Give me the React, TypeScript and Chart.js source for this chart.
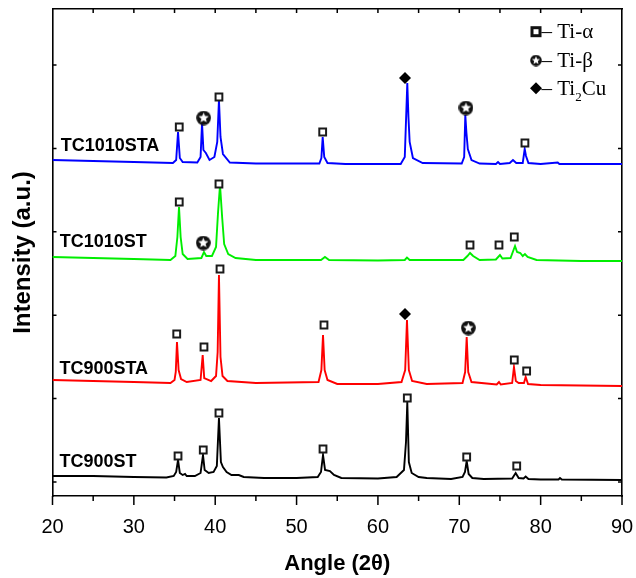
import React, { useEffect, useRef } from 'react';
import { Chart, registerables } from 'chart.js';

Chart.register(...registerables);

// ---------- data (angle 2θ, intensity in a.u., offset patterns) ----------
const TC900ST_X = [20, 25, 30, 34, 34.9, 35.2, 35.43, 35.65, 36.0, 36.29, 36.5, 37.5, 38.2, 38.5, 38.7, 39.2, 39.8, 40.2, 40.46, 40.7, 40.95, 41.4, 42, 42.9, 43.5, 46, 50, 52.6, 53.0, 53.25, 53.5, 54.1, 54.6, 55.5, 60, 62.3, 63.2, 63.45, 63.61, 63.8, 64.15, 65, 66, 69, 70.4, 70.7, 70.91, 71.15, 71.6, 73, 76.5, 76.93, 77.3, 77.9, 78.16, 78.5, 80, 82.2, 82.38, 82.6, 90];
const TC900ST_Y = [6, 6, 5, 4.5, 6, 10, 22, 9, 7, 8, 6, 6, 9, 27, 12, 9, 10, 16, 64, 20, 15, 10, 7, 7, 5, 4, 4, 5, 10, 27, 12, 11, 7, 4, 3.5, 5, 12, 40, 80, 20, 9, 5, 4, 3, 5, 10, 21, 8, 4, 3, 3.5, 9, 4, 3.5, 5.5, 3, 2.5, 2.5, 4, 2.5, 2];

const TC900STA_X = [20, 25, 30, 34.5, 35.0, 35.15, 35.3, 35.5, 35.8, 36.5, 38.2, 38.46, 38.65, 39.5, 40.1, 40.3, 40.46, 40.65, 40.9, 41.5, 45, 52.7, 53.05, 53.25, 53.45, 53.8, 55, 60, 62.9, 63.35, 63.57, 63.8, 64.2, 66, 70.4, 70.72, 70.91, 71.1, 71.5, 74.6, 74.88, 75.1, 76.5, 76.72, 76.95, 77.3, 77.95, 78.16, 78.45, 80, 85, 90];
const TC900STA_Y = [102, 101, 100, 99, 102, 110, 140, 112, 103, 100, 102, 127, 104, 101, 106, 130, 207, 125, 106, 101, 99, 100, 112, 147, 112, 102, 98, 98, 100, 112, 162, 112, 101, 98, 99, 110, 145, 110, 100, 97.5, 100, 97.5, 99, 115, 101, 99, 99, 105, 98, 97, 96.5, 96];

const TC1010ST_X = [20, 25, 30, 34.5, 35.1, 35.35, 35.55, 35.75, 36.0, 36.6, 38.3, 38.62, 38.9, 39.6, 40.1, 40.35, 40.59, 40.85, 41.1, 41.6, 42.5, 45, 53.0, 53.49, 54, 60, 63.3, 63.57, 63.9, 70.5, 71.0, 71.32, 71.7, 72.5, 74.5, 75.0, 75.3, 76.3, 76.85, 77.1, 77.5, 77.8, 78.07, 78.4, 79.5, 85, 90];
const TC1010ST_Y = [225, 224, 223, 222, 226, 245, 275, 245, 228, 223, 224, 230, 226, 226, 235, 270, 297, 265, 238, 228, 224, 222, 222, 225, 222, 221.5, 222, 224.5, 222, 222, 226, 229, 226, 222, 222.5, 227, 223.5, 224, 236, 230, 229, 226, 228, 225, 222, 221, 221];

const TC1010STA_X = [20, 25, 30, 34.8, 35.2, 35.43, 35.65, 36.0, 37.8, 38.2, 38.38, 38.55, 38.85, 39.3, 39.9, 40.25, 40.46, 40.65, 40.95, 41.8, 45, 52.8, 53.05, 53.21, 53.4, 53.8, 56, 62.8, 63.3, 63.61, 63.75, 63.9, 64.3, 65.5, 70.3, 70.6, 70.74, 70.88, 71.05, 71.5, 72.5, 74.5, 74.76, 75.0, 76.2, 76.6, 77.0, 77.8, 78.04, 78.2, 78.5, 80, 82.1, 82.3, 90];
const TC1010STA_Y = [322, 321, 320, 319, 322, 350, 324, 320, 319.5, 325, 359, 332, 329, 322, 325, 340, 382, 345, 328, 319.5, 318.5, 318.5, 324, 345, 325, 319, 318, 318, 325, 399, 365, 340, 324, 319, 318.5, 325, 367, 349, 333, 322, 318.5, 318, 320, 318, 319, 322, 319, 319, 333, 326, 319, 318, 319.5, 318, 318];

// phase markers
const ALPHA_X = [35.58, 40.46, 53.21, 78.07, 35.58, 40.46, 71.32, 74.88, 76.76, 35.27, 38.62, 40.59, 53.37, 76.76, 78.28, 35.43, 38.53, 40.46, 53.25, 63.61, 70.91, 77.06];
const ALPHA_Y = [355, 385, 350, 339, 280, 298, 237, 237, 245, 148, 135, 213, 157, 122, 111, 26, 32, 69, 33, 84, 25, 16];
const BETA_X = [38.58, 70.82, 38.53, 71.11];
const BETA_Y = [364, 374, 239, 154];
const TI2CU_X = [63.33, 63.33];
const TI2CU_Y = [404, 168];

// series labels and their anchor (angle, intensity)
const SERIES_NAMES = ['TC1010STA', 'TC1010ST', 'TC900STA', 'TC900ST'];
const SERIES_LABEL_X = [21.0, 20.9, 20.85, 20.85];
const SERIES_LABEL_Y = [336, 240, 113, 20];

// axes
const X_MIN = 20;
const X_MAX = 90;
const X_MAJOR = [20, 30, 40, 50, 60, 70, 80, 90];
const X_MINOR = [25, 35, 45, 55, 65, 75, 85];
const Y_MIN = -14;
const Y_MAX = 473;
const Y_TICKS = [0, 83.4, 166.8, 250.2, 333.6, 417];

const pts = (xs: number[], ys: number[]) => xs.map((x, i) => ({ x, y: ys[i] }));

function makeStarIcon(d: number): HTMLCanvasElement {
  const c = document.createElement('canvas');
  c.width = d;
  c.height = d;
  const g = c.getContext('2d')!;
  const r = d / 2;
  g.fillStyle = '#111';
  g.beginPath();
  g.arc(r, r, r - 0.2, 0, Math.PI * 2);
  g.fill();
  g.fillStyle = '#fff';
  g.beginPath();
  for (let i = 0; i < 10; i++) {
    const rr = i % 2 === 0 ? r * 0.72 : r * 0.32;
    const a = -Math.PI / 2 + (i * Math.PI) / 5;
    const px = r + rr * Math.cos(a);
    const py = r + rr * Math.sin(a);
    if (i === 0) g.moveTo(px, py);
    else g.lineTo(px, py);
  }
  g.closePath();
  g.fill();
  return c;
}

const tickPlugin = {
  id: 'customTicks',
  afterDraw(chart: any) {
    const { ctx, chartArea, scales } = chart;
    const xs = scales.x;
    const ys = scales.y;
    ctx.save();
    ctx.strokeStyle = '#000';
    ctx.lineWidth = 1.5;
    ctx.beginPath();
    X_MAJOR.forEach((v) => {
      const px = xs.getPixelForValue(v);
      ctx.moveTo(px, chartArea.bottom);
      ctx.lineTo(px, chartArea.bottom + 9);
    });
    X_MINOR.forEach((v) => {
      const px = xs.getPixelForValue(v);
      ctx.moveTo(px, chartArea.bottom);
      ctx.lineTo(px, chartArea.bottom + 5);
    });
    X_MAJOR.concat(X_MINOR).forEach((v) => {
      if (v === X_MIN || v === X_MAX) return;
      const px = xs.getPixelForValue(v);
      ctx.moveTo(px, chartArea.top);
      ctx.lineTo(px, chartArea.top + 4);
    });
    Y_TICKS.forEach((v) => {
      const py = ys.getPixelForValue(v);
      ctx.moveTo(chartArea.left, py);
      ctx.lineTo(chartArea.left + 4, py);
      ctx.moveTo(chartArea.right, py);
      ctx.lineTo(chartArea.right - 4, py);
    });
    ctx.stroke();

    // series names
    ctx.fillStyle = '#000';
    ctx.font = 'bold 18px "Liberation Sans", Arial, sans-serif';
    ctx.textAlign = 'left';
    ctx.textBaseline = 'middle';
    SERIES_NAMES.forEach((name, i) => {
      ctx.fillText(name, xs.getPixelForValue(SERIES_LABEL_X[i]), ys.getPixelForValue(SERIES_LABEL_Y[i]));
    });
    ctx.restore();
  },
};

function makeLegendPlugin(starSmall: HTMLCanvasElement) {
  return {
    id: 'phaseLegend',
    afterDraw(chart: any) {
      const { ctx } = chart;
      ctx.save();
      const ix = 536;
      const rows = [31.7, 60.5, 88.3];
      // square
      ctx.lineWidth = 3;
      ctx.strokeStyle = '#111';
      ctx.fillStyle = '#fff';
      ctx.fillRect(ix - 4, rows[0] - 4, 8, 8);
      ctx.strokeRect(ix - 4, rows[0] - 4, 8, 8);
      // star
      ctx.drawImage(starSmall, ix - starSmall.width / 2, rows[1] - starSmall.height / 2);
      // diamond
      ctx.fillStyle = '#000';
      ctx.beginPath();
      ctx.moveTo(ix, rows[2] - 6);
      ctx.lineTo(ix + 6, rows[2]);
      ctx.lineTo(ix, rows[2] + 6);
      ctx.lineTo(ix - 6, rows[2]);
      ctx.closePath();
      ctx.fill();

      ctx.fillStyle = '#000';
      ctx.textAlign = 'left';
      ctx.textBaseline = 'middle';
      const font = '21px "Liberation Serif", "Times New Roman", serif';
      ctx.font = font;
      const tx = 541.5;
      ctx.fillText('– Ti-α', tx, rows[0] + 1);
      ctx.fillText('– Ti-β', tx, rows[1] + 1);
      const part1 = '– Ti';
      ctx.fillText(part1, tx, rows[2] + 1);
      const w = ctx.measureText(part1).width;
      ctx.font = '13px "Liberation Serif", "Times New Roman", serif';
      ctx.fillText('2', tx + w, rows[2] + 9);
      const w2 = ctx.measureText('2').width;
      ctx.font = font;
      ctx.fillText('Cu', tx + w + w2, rows[2] + 1);
      ctx.restore();
    },
  };
}

export default function App() {
  const ref = useRef<HTMLCanvasElement | null>(null);

  useEffect(() => {
    if (!ref.current) return;
    const starBig = makeStarIcon(15);
    const starSmall = makeStarIcon(12);
    const lineDs = (label: string, xs: number[], ys: number[], color: string) => ({
      type: 'line' as const,
      label,
      data: pts(xs, ys),
      borderColor: color,
      backgroundColor: color,
      borderWidth: 1.9,
      pointRadius: 0,
      tension: 0,
      fill: false,
    });
    const chart = new Chart(ref.current, {
      type: 'line',
      data: {
        datasets: [
          {
            type: 'scatter',
            label: 'Ti-α',
            data: pts(ALPHA_X, ALPHA_Y),
            pointStyle: 'rect',
            pointRadius: 4.8,
            borderWidth: 2,
            borderColor: '#1a1a1a',
            backgroundColor: '#ffffff',
            showLine: false,
          } as any,
          {
            type: 'scatter',
            label: 'Ti-β',
            data: pts(BETA_X, BETA_Y),
            pointStyle: starBig,
            pointRadius: 7.5,
            showLine: false,
          } as any,
          {
            type: 'scatter',
            label: 'Ti2Cu',
            data: pts(TI2CU_X, TI2CU_Y),
            pointStyle: 'rectRot',
            pointRadius: 6,
            borderWidth: 0,
            borderColor: '#000',
            backgroundColor: '#000',
            showLine: false,
          } as any,
          lineDs('TC1010STA', TC1010STA_X, TC1010STA_Y, '#0000ff'),
          lineDs('TC1010ST', TC1010ST_X, TC1010ST_Y, '#00ee00'),
          lineDs('TC900STA', TC900STA_X, TC900STA_Y, '#ff0000'),
          lineDs('TC900ST', TC900ST_X, TC900ST_Y, '#000000'),
        ],
      },
      options: {
        animation: false,
        responsive: false,
        devicePixelRatio: 1,
        parsing: false,
        normalized: true,
        layout: { padding: 0 },
        plugins: {
          legend: { display: false },
          tooltip: { enabled: false },
        },
        scales: {
          x: {
            type: 'linear',
            position: 'bottom',
            min: X_MIN,
            max: X_MAX,
            afterBuildTicks: (s: any) => {
              s.ticks = X_MAJOR.map((v) => ({ value: v }));
            },
            ticks: {
              color: '#000',
              padding: 19,
              maxRotation: 0,
              font: { family: '"Liberation Sans", Arial, sans-serif', size: 20 },
            },
            grid: { display: false, drawTicks: false },
            border: { display: true, color: '#000', width: 1.6 },
            title: {
              display: true,
              text: 'Angle (2θ)',
              color: '#000',
              font: { family: '"Liberation Sans", Arial, sans-serif', size: 22, weight: 'bold' },
              padding: { top: 0, bottom: 1 },
            },
            afterFit: (s: any) => {
              s.height = 82;
              s.paddingLeft = 0;
              s.paddingRight = 0;
            },
          },
          xTop: {
            type: 'linear',
            position: 'top',
            min: X_MIN,
            max: X_MAX,
            ticks: { display: false },
            grid: { display: false, drawTicks: false },
            border: { display: true, color: '#000', width: 1.6 },
            afterFit: (s: any) => {
              s.height = 9;
              s.paddingLeft = 0;
              s.paddingRight = 0;
            },
          },
          y: {
            type: 'linear',
            position: 'left',
            min: Y_MIN,
            max: Y_MAX,
            ticks: { display: false },
            grid: { display: false, drawTicks: false },
            border: { display: true, color: '#000', width: 1.6 },
            title: {
              display: true,
              text: 'Intensity (a.u.)',
              color: '#000',
              font: { family: '"Liberation Sans", Arial, sans-serif', size: 24, weight: 'bold' },
              padding: { top: 9, bottom: 0 },
            },
            afterFit: (s: any) => {
              s.width = 52.5;
              s.paddingTop = 0;
              s.paddingBottom = 0;
            },
          },
          yRight: {
            type: 'linear',
            position: 'right',
            min: Y_MIN,
            max: Y_MAX,
            ticks: { display: false },
            grid: { display: false, drawTicks: false },
            border: { display: true, color: '#000', width: 1.6 },
            afterFit: (s: any) => {
              s.width = 14;
              s.paddingTop = 0;
              s.paddingBottom = 0;
            },
          },
        },
      } as any,
      plugins: [tickPlugin, makeLegendPlugin(starSmall)],
    });
    return () => chart.destroy();
  }, []);

  return (
    <div style={{ position: 'fixed', left: 0, top: 0, width: 636, height: 578, background: '#fff' }}>
      <canvas ref={ref} width={636} height={578} style={{ display: 'block', width: 636, height: 578 }} />
    </div>
  );
}
